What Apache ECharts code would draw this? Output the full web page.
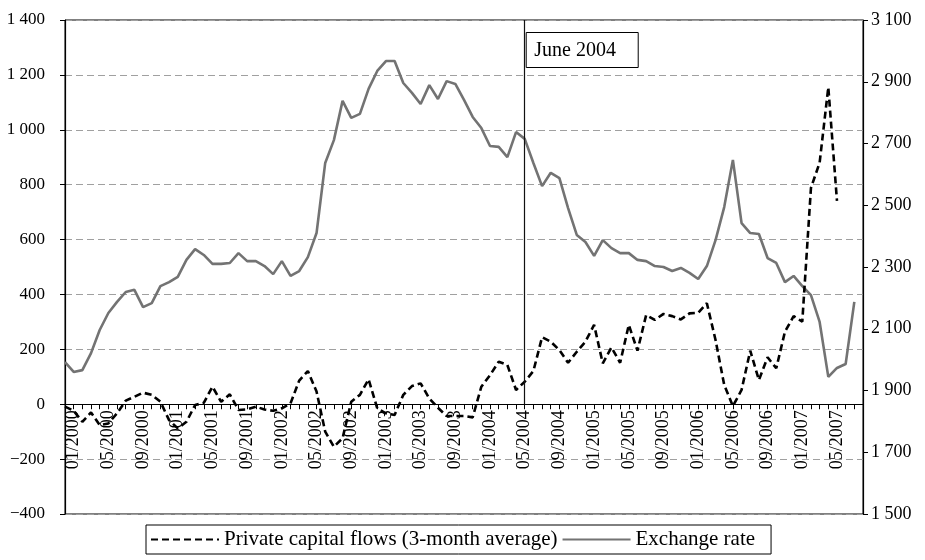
<!DOCTYPE html>
<html>
<head>
<meta charset="utf-8">
<script src="https://cdn.jsdelivr.net/npm/echarts@6/dist/echarts.min.js"></script>
<style>
  html, body { margin: 0; padding: 0; background: #fff; }
  #chart { width: 925px; height: 560px; }
</style>
</head>
<body>
<div id="chart"></div>
<script>
// months on the category axis (labels shown every 4th, starting 01/2000)
var months = [
  '12/1999',
  '01/2000','02/2000','03/2000','04/2000','05/2000','06/2000','07/2000','08/2000','09/2000','10/2000','11/2000','12/2000',
  '01/2001','02/2001','03/2001','04/2001','05/2001','06/2001','07/2001','08/2001','09/2001','10/2001','11/2001','12/2001',
  '01/2002','02/2002','03/2002','04/2002','05/2002','06/2002','07/2002','08/2002','09/2002','10/2002','11/2002','12/2002',
  '01/2003','02/2003','03/2003','04/2003','05/2003','06/2003','07/2003','08/2003','09/2003','10/2003','11/2003','12/2003',
  '01/2004','02/2004','03/2004','04/2004','05/2004','06/2004','07/2004','08/2004','09/2004','10/2004','11/2004','12/2004',
  '01/2005','02/2005','03/2005','04/2005','05/2005','06/2005','07/2005','08/2005','09/2005','10/2005','11/2005','12/2005',
  '01/2006','02/2006','03/2006','04/2006','05/2006','06/2006','07/2006','08/2006','09/2006','10/2006','11/2006','12/2006',
  '01/2007','02/2007','03/2007','04/2007','05/2007','06/2007','07/2007','08/2007'
];

// private capital flows, 3-month average (left axis)
var capitalFlows = [
  -9, -24, -64, -30, -76, -70, -33, 13, 27, 42, 34, 9,
  -58, -88, -64, -3, 5, 64, 9, 36, -21, -19, -9, -19,
  -24, -15, 3, 86, 121, 46, -100, -155, -124, 9, 34, 91,
  -15, -33, -39, 34, 66, 76, 21, -13, -43, -43, -43, -48,
  64, 106, 155, 143, 52, 82, 121, 244, 228, 197, 151, 191,
  228, 289, 149, 207, 151, 289, 195, 325, 307, 329, 321, 309,
  331, 333, 368, 234, 70, -7, 52, 195, 88, 171, 131, 264,
  321, 301, 788, 880, 1155, 741
];

// exchange rate (right axis)
var exchangeRate = [
  1992, 1960, 1966, 2021, 2096, 2151, 2187, 2219, 2226, 2170, 2183, 2238,
  2251, 2268, 2323, 2358, 2339, 2310, 2310, 2313, 2345, 2319, 2319, 2303,
  2277, 2319, 2271, 2287, 2332, 2410, 2637, 2711, 2838, 2783, 2796, 2877,
  2935, 2967, 2967, 2896, 2864, 2828, 2889, 2844, 2902, 2893, 2841, 2786,
  2750, 2692, 2689, 2656, 2737, 2715, 2637, 2562, 2605, 2588, 2491, 2404,
  2381, 2336, 2387, 2361, 2345, 2345, 2323, 2319, 2303, 2300, 2287, 2297,
  2281, 2261, 2303, 2387, 2494, 2647, 2442, 2410, 2407, 2329, 2313, 2251,
  2271, 2238, 2209, 2122, 1944, 1973, 1986, 2187
];

var leftTicks = [-400, 1400, 200];
var rightTicks = [1500, 3100, 200];
var markerMonth = '05/2004';
var markerText = 'June 2004';

var FONT = 'Liberation Serif';

function spaced(v) {
  var s = String(Math.abs(v)).replace(/\B(?=(\d{3})+(?!\d))/g, ' ');
  return (v < 0 ? '\u2212' : '') + s;
}

var chart = echarts.init(document.getElementById('chart'));

// the x axis sits on the zero line of the left axis
var gridTop = 20, gridBottom = 46, plotH = 560 - gridTop - gridBottom;
var zeroOffset = -plotH * (0 - leftTicks[0]) / (leftTicks[1] - leftTicks[0]);

var option = {
  animation: false,
  textStyle: { fontFamily: FONT, color: '#000' },
  grid: {
    left: 65, right: 62, top: gridTop, bottom: gridBottom,
    show: true, borderColor: '#000', borderWidth: 1
  },
  legend: {
    left: 146, top: 525,
    padding: [4, 16, 4, 4],
    itemGap: 4,
    itemWidth: 68, itemHeight: 14,
    borderColor: '#000', borderWidth: 1,
    itemStyle: { opacity: 0 },
    textStyle: { fontFamily: FONT, fontSize: 21, color: '#000' },
    data: ['Private capital flows (3-month average)', 'Exchange rate']
  },
  xAxis: {
    type: 'category',
    data: months,
    boundaryGap: false,
    offset: zeroOffset,
    axisLine: { onZero: false, lineStyle: { color: '#000', width: 1.2 } },
    axisTick: { interval: 0, length: 5, lineStyle: { color: '#000' } },
    axisLabel: {
      rotate: 90,
      interval: function (idx) { return idx % 4 === 1; },
      fontFamily: FONT, fontSize: 18, color: '#000', margin: 6
    },
    splitLine: { show: false }
  },
  yAxis: [
    {
      type: 'value',
      min: leftTicks[0], max: leftTicks[1], interval: leftTicks[2],
      axisLine: { show: true, lineStyle: { color: '#000', width: 1.2 } },
      axisTick: { show: true, length: 5, lineStyle: { color: '#000' } },
      axisLabel: { formatter: spaced, fontFamily: FONT, fontSize: 17, color: '#000', margin: 20 },
      splitLine: { show: true, lineStyle: { color: '#a0a0a0', type: [7, 4], width: 1.2 } }
    },
    {
      type: 'value',
      position: 'right',
      min: rightTicks[0], max: rightTicks[1], interval: rightTicks[2],
      axisLine: { show: true, lineStyle: { color: '#000', width: 1.2 } },
      axisTick: { show: true, length: 5, lineStyle: { color: '#000' } },
      axisLabel: { formatter: spaced, fontFamily: FONT, fontSize: 18, color: '#000', margin: 8 },
      splitLine: { show: false }
    }
  ],
  series: [
    {
      name: 'Private capital flows (3-month average)',
      type: 'line',
      yAxisIndex: 0,
      data: capitalFlows,
      symbol: 'none',
      z: 4,
      lineStyle: { color: '#000', width: 2.6, type: [7, 4] },
      itemStyle: { color: '#000' },
      markLine: {
        silent: true,
        symbol: 'none',
        label: { show: false },
        lineStyle: { color: '#111', width: 1.2, type: 'solid' },
        data: [[{ coord: [markerMonth, 0] }, { coord: [markerMonth, leftTicks[1]] }]]
      }
    },
    {
      name: 'Exchange rate',
      type: 'line',
      yAxisIndex: 1,
      data: exchangeRate,
      symbol: 'none',
      z: 3,
      lineStyle: { color: '#737373', width: 2.6 },
      itemStyle: { color: '#737373' }
    }
  ]
};

chart.setOption(option);

// text box beside the marker line
var mx = chart.convertToPixel({ xAxisIndex: 0 }, markerMonth);
chart.setOption({
  graphic: [{
    type: 'group',
    left: mx + 1, top: 32,
    children: [
      { type: 'rect', shape: { x: 0, y: 0, width: 112, height: 35 },
        style: { fill: '#fff', stroke: '#000', lineWidth: 1 } },
      { type: 'text', x: 8, y: 18,
        style: { text: markerText, font: '20px "Liberation Serif"', fill: '#000', verticalAlign: 'middle' } }
    ]
  }]
});
</script>
</body>
</html>
